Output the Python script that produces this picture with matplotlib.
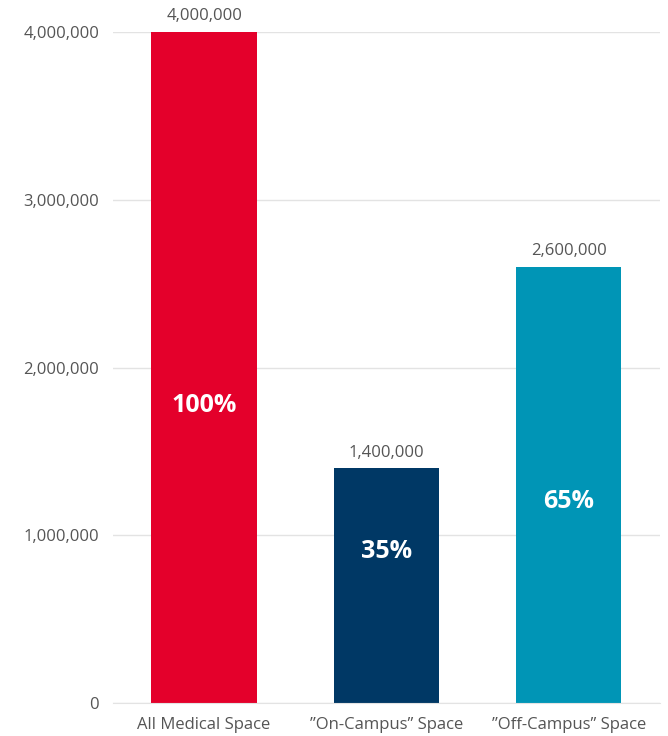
import matplotlib

matplotlib.use("Agg")

import matplotlib.pyplot as plt  # noqa: E402
from matplotlib.ticker import FuncFormatter  # noqa: E402

categories = ["All Medical Space", "\u201dOn-Campus\u201d Space", "\u201dOff-Campus\u201d Space"]
values = [4000000, 1400000, 2600000]
shares = ["100%", "35%", "65%"]
yticks = [0, 1000000, 2000000, 3000000, 4000000]

_COLORS = ["#E4002B", "#003865", "#0095B6"]
# where the share label sits inside each bar, as a fraction of bar height
_SHARE_POS = [0.444, 0.647, 0.463]
_TEXT = "#555555"

plt.rcParams["font.family"] = ["Open Sans", "DejaVu Sans"]

fig = plt.figure(figsize=(6.68, 7.36), dpi=100)
ax = fig.add_axes([0.169, 0.0448, 0.819, 0.9117])

x = range(len(categories))
bars = ax.bar(x, values, width=0.577, color=_COLORS, zorder=2)

for bar, val, share, pos in zip(bars, values, shares, _SHARE_POS):
    cx = bar.get_x() + bar.get_width() / 2
    ax.text(cx, val + 45000, f"{val:,}", ha="center", va="bottom",
            fontsize=12, color=_TEXT)
    ax.text(cx, val * pos, share, ha="center", va="center",
            fontsize=18, fontweight="bold", color="white")

ax.set_xlim(-0.5, 2.5)
ax.set_ylim(0, 4000000)
ax.set_yticks(yticks)
ax.yaxis.set_major_formatter(FuncFormatter(lambda v, _: f"{int(v):,}"))
ax.set_xticks(list(x))
ax.set_xticklabels(categories)
ax.tick_params(axis="both", length=0, labelsize=12, labelcolor=_TEXT)
ax.tick_params(axis="y", pad=10)
ax.tick_params(axis="x", pad=10)
ax.grid(axis="y", color="#e3e3e3", lw=1, zorder=0)
for side in ["top", "right", "left"]:
    ax.spines[side].set_visible(False)
ax.spines["bottom"].set_color("#e3e3e3")

fig.savefig("out.png", dpi=100)
plt.close(fig)
